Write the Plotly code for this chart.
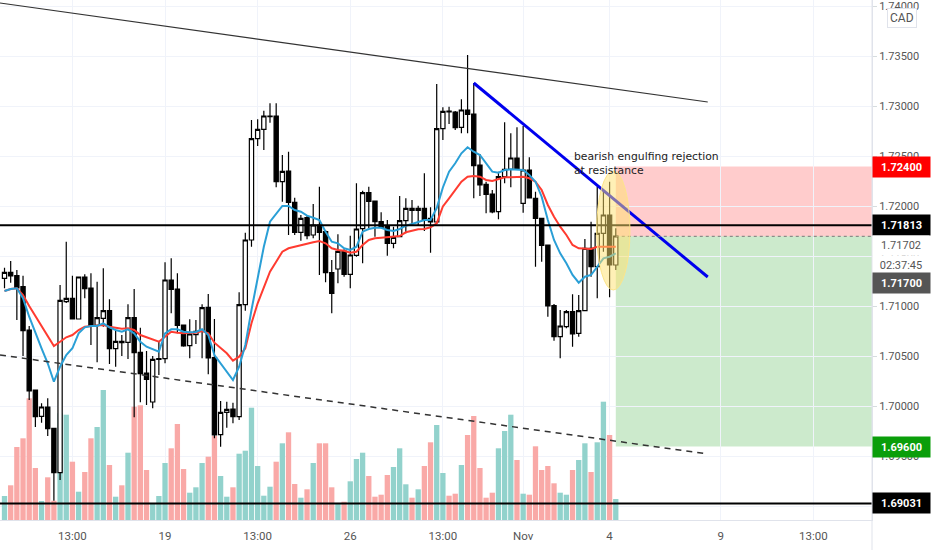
"""
GBP/CAD style chart: candles, volume, two moving averages and a short setup
"""

import plotly.graph_objects as go

bars = list(range(100))

opens = [
    1.71282, 1.71342, 1.71308, 1.71198, 1.70765, 1.70165, 1.69902, 1.69995, 1.69782, 1.69338,
    1.71048, 1.71082, 1.70875, 1.71295, 1.71185, 1.70812, 1.70882, 1.70958, 1.70578, 1.70652,
    1.70642, 1.70888, 1.70542, 1.70335, 1.70045, 1.70472, 1.70478, 1.71265, 1.71175, 1.70815,
    1.70608, 1.70718, 1.70752, 1.70992, 1.70488, 1.69718, 1.69942, 1.69975, 1.69898, 1.71018,
    1.71665, 1.72678, 1.72772, 1.72898, 1.72905, 1.72248, 1.72355, 1.72042, 1.71742, 1.71888,
    1.71715, 1.71815, 1.71748, 1.71338, 1.71375, 1.71555, 1.71322, 1.71512, 1.71778, 1.72138,
    1.72055, 1.71848, 1.71808, 1.71632, 1.71698, 1.71858, 1.71982, 1.71962, 1.71982, 1.71882,
    1.71845, 1.72778, 1.72955, 1.72945, 1.72792, 1.72965, 1.72925, 1.72415, 1.72222, 1.72125,
    1.71948, 1.72298, 1.72372, 1.72485, 1.72032, 1.72365, 1.72082, 1.71882, 1.71615, 1.71008,
    1.70698, 1.70798, 1.70948, 1.70732, 1.70958, 1.71582, 1.71398, 1.71732, 1.71915, 1.71415,
]
closes = [
    1.71342, 1.71305, 1.71185, 1.70758, 1.70155, 1.69898, 1.69995, 1.69778, 1.69338, 1.71062,
    1.71082, 1.70875, 1.71295, 1.71178, 1.70805, 1.70888, 1.70958, 1.70578, 1.70652, 1.70638,
    1.70888, 1.70538, 1.70328, 1.70272, 1.70472, 1.70478, 1.71265, 1.71172, 1.70812, 1.70605,
    1.70725, 1.70752, 1.70988, 1.70485, 1.69715, 1.69942, 1.69972, 1.69898, 1.71018, 1.71665,
    1.72678, 1.72772, 1.72905, 1.72905, 1.72248, 1.72352, 1.72042, 1.71742, 1.71882, 1.71708,
    1.71815, 1.71742, 1.71338, 1.71132, 1.71552, 1.71322, 1.71515, 1.71775, 1.72138, 1.72052,
    1.71848, 1.71792, 1.71632, 1.71692, 1.71858, 1.71982, 1.71962, 1.71982, 1.71872, 1.71845,
    1.72778, 1.72952, 1.72945, 1.72788, 1.72965, 1.72922, 1.72408, 1.72215, 1.72122, 1.71945,
    1.72298, 1.72372, 1.72485, 1.72372, 1.72365, 1.72085, 1.71882, 1.71612, 1.71005, 1.70698,
    1.70805, 1.70948, 1.70725, 1.70958, 1.71582, 1.71398, 1.71732, 1.71915, 1.71415, 1.71705,
]
highs = [
    1.71388, 1.71455, 1.71365, 1.71308, 1.70805, 1.70165, 1.70032, 1.70082, 1.69785, 1.71215,
    1.71648, 1.71308, 1.71295, 1.71322, 1.71332, 1.71248, 1.71382, 1.71072, 1.70755, 1.70715,
    1.71022, 1.71175, 1.70788, 1.70555, 1.70505, 1.70648, 1.71442, 1.71482, 1.71332, 1.70815,
    1.70872, 1.70865, 1.71022, 1.71125, 1.70875, 1.70055, 1.70048, 1.70038, 1.71142, 1.71738,
    1.72865, 1.72872, 1.72958, 1.73032, 1.73032, 1.72515, 1.72548, 1.72088, 1.71915, 1.71915,
    1.72025, 1.72198, 1.71765, 1.71465, 1.71722, 1.71572, 1.71708, 1.72232, 1.72158, 1.72198,
    1.72055, 1.71942, 1.71865, 1.71798, 1.72105, 1.72082, 1.72065, 1.72008, 1.72332, 1.71992,
    1.73225, 1.72992, 1.72998, 1.72955, 1.73072, 1.73515, 1.73235, 1.72525, 1.72248, 1.72165,
    1.72348, 1.72842, 1.72732, 1.72792, 1.72805, 1.72492, 1.72148, 1.71882, 1.71615, 1.71025,
    1.70965, 1.70965, 1.71122, 1.71115, 1.71675, 1.71848, 1.72198, 1.72165, 1.72248, 1.71782,
]
lows = [
    1.71182, 1.71238, 1.70865, 1.70505, 1.70065, 1.69795, 1.69838, 1.69705, 1.69058, 1.69265,
    1.71035, 1.70875, 1.70875, 1.71082, 1.70615, 1.70442, 1.70798, 1.70425, 1.70398, 1.70505,
    1.70475, 1.69892, 1.70042, 1.70015, 1.69982, 1.70315, 1.70432, 1.70932, 1.70732, 1.70598,
    1.70482, 1.70625, 1.70482, 1.70322, 1.69682, 1.69598, 1.69788, 1.69832, 1.69865, 1.70958,
    1.71598, 1.72605, 1.72565, 1.72838, 1.72192, 1.72048, 1.71715, 1.71715, 1.71658, 1.71672,
    1.71682, 1.71315, 1.71242, 1.70932, 1.71232, 1.71298, 1.71182, 1.71498, 1.71432, 1.71782,
    1.71698, 1.71782, 1.71508, 1.71582, 1.71692, 1.71732, 1.71825, 1.71815, 1.71755, 1.71538,
    1.71825, 1.72665, 1.72825, 1.72765, 1.72732, 1.72732, 1.72082, 1.72105, 1.71932, 1.71932,
    1.71872, 1.72232, 1.72192, 1.72365, 1.71938, 1.72082, 1.71398, 1.71448, 1.70898, 1.70658,
    1.70482, 1.70782, 1.70598, 1.70698, 1.70958, 1.71298, 1.71082, 1.71548, 1.71092, 1.71365,
]
volumes = [
    24, 34.7, 73, 81.7, 121.7, 52, 19, 42.7, 19.3, 106.7,
    105.3, 58.3, 28.3, 48, 81.7, 93, 130, 55, 23.3, 34.7,
    67.3, 113.3, 114.7, 50, 16.7, 24, 57, 71.7, 96, 51,
    27.3, 32.7, 57, 63.3, 84, 44, 23.3, 32.7, 66.3, 69.3,
    112.3, 54, 24.3, 33.3, 58.3, 76.7, 87.7, 36, 22.3, 30.7,
    57, 76.7, 76.7, 32.7, 16.7, 18.3, 38.7, 61, 67.3, 44,
    23.3, 25.3, 45, 53, 71.7, 35.7, 22.3, 30.7, 54, 77.7,
    95, 47, 24.3, 26.3, 55, 85, 104, 52, 22.3, 27.3,
    71.7, 89, 105.3, 60, 26.3, 25.3, 73.7, 50, 54, 36.7,
    27.3, 25.3, 50, 60, 76.7, 48, 77.7, 118.3, 85, 21,
]
ma_fast = [
    1.71155, 1.71175, 1.71182, 1.71082, 1.70898, 1.70732, 1.70582, 1.70432, 1.70248, 1.70398,
    1.70515, 1.70582, 1.70732, 1.70792, 1.70805, 1.70805, 1.70832, 1.70792, 1.70765, 1.70748,
    1.70772, 1.70732, 1.70648, 1.70598, 1.70572, 1.70548, 1.70732, 1.70772, 1.70772, 1.70748,
    1.70742, 1.70745, 1.70772, 1.70715, 1.70515, 1.70432, 1.70348, 1.70265, 1.70398, 1.70615,
    1.70965, 1.71298, 1.71598, 1.71848, 1.71932, 1.72005, 1.72005, 1.71965, 1.71948, 1.71908,
    1.71888, 1.71865, 1.71748, 1.71648, 1.71632, 1.71582, 1.71565, 1.71598, 1.71748, 1.71775,
    1.71788, 1.71788, 1.71765, 1.71755, 1.71775, 1.71808, 1.71825, 1.71848, 1.71865, 1.71865,
    1.71985, 1.72190, 1.72348, 1.72432, 1.72532, 1.72592, 1.72548, 1.72515, 1.72432, 1.72348,
    1.72338, 1.72365, 1.72372, 1.72372, 1.72365, 1.72315, 1.72248, 1.72098, 1.71865, 1.71665,
    1.71532, 1.71432, 1.71315, 1.71238, 1.71298, 1.71315, 1.71398, 1.71482, 1.71498, 1.71532,
]
ma_slow = [
    1.71155, 1.71175, 1.71182, 1.71115, 1.71005, 1.70905, 1.70815, 1.70715, 1.70605, 1.70648,
    1.70692, 1.70715, 1.70765, 1.70798, 1.70805, 1.70805, 1.70815, 1.70798, 1.70785, 1.70778,
    1.70782, 1.70765, 1.70715, 1.70692, 1.70665, 1.70648, 1.70698, 1.70748, 1.70738, 1.70732,
    1.70738, 1.70738, 1.70755, 1.70732, 1.70638, 1.70582, 1.70532, 1.70458, 1.70498, 1.70582,
    1.70832, 1.71032, 1.71198, 1.71348, 1.71448, 1.71548, 1.71582, 1.71598, 1.71615, 1.71632,
    1.71642, 1.71655, 1.71632, 1.71582, 1.71565, 1.71558, 1.71538, 1.71548, 1.71615, 1.71665,
    1.71682, 1.71688, 1.71692, 1.71698, 1.71705, 1.71742, 1.71758, 1.71772, 1.71775, 1.71792,
    1.71832, 1.72000, 1.72082, 1.72165, 1.72248, 1.72298, 1.72305, 1.72298, 1.72265, 1.72255,
    1.72272, 1.72292, 1.72292, 1.72298, 1.72298, 1.72282, 1.72248, 1.72165, 1.72015, 1.71898,
    1.71798, 1.71715, 1.71615, 1.71582, 1.71575, 1.71575, 1.71598, 1.71598, 1.71605, 1.71598,
]

x_start = -0.73
x_end = 140.5
x_ticks = [11, 26, 41, 56, 71, 84, 98, 116, 131]
x_labels = ['13:00', '19', '13:00', '26', '13:00', 'Nov', '4', '9', '13:00']
y_ticks = [1.69, 1.695, 1.70, 1.705, 1.71, 1.715, 1.72, 1.725, 1.73, 1.735, 1.74]

# drawings on the chart
upper_x = [x_start, 113.9]
upper_y = [1.74035, 1.73045]
lower_x = [x_start, 113.9]
lower_y = [1.70515, 1.69525]
blue_x = [76, 113.9]
blue_y = [1.73235, 1.71295]
resistance = 1.71813
support = 1.69031
entry = 1.71702
stop = 1.724
target = 1.696
last_price = 1.717

fig = go.Figure()

vol_colors = ['#92d2cc' if c >= o else '#f9a9a7' for o, c in zip(opens, closes)]
fig.add_trace(go.Bar(x=bars, y=volumes, marker_color=vol_colors, marker_line_width=0, yaxis='y'))

fig.add_trace(go.Scatter(x=bars, y=ma_slow, mode='lines', line=dict(color='#ff3b30', width=2), yaxis='y2'))
fig.add_trace(go.Scatter(x=bars, y=ma_fast, mode='lines', line=dict(color='#2a9fd6', width=2), yaxis='y2'))

fig.add_trace(go.Candlestick(
    x=bars, open=opens, high=highs, low=lows, close=closes, yaxis='y2', whiskerwidth=0,
    increasing=dict(line=dict(color='#000000', width=1.2), fillcolor='#ffffff'),
    decreasing=dict(line=dict(color='#000000', width=1.2), fillcolor='#000000'),
))

fig.add_trace(go.Scatter(x=upper_x, y=upper_y, mode='lines', line=dict(color='#333333', width=1.2), yaxis='y2'))
fig.add_trace(go.Scatter(x=lower_x, y=lower_y, mode='lines', line=dict(color='#333333', width=1.5, dash='6px,5px'), yaxis='y2'))
fig.add_trace(go.Scatter(x=blue_x, y=blue_y, mode='lines', line=dict(color='#0000ee', width=3), yaxis='y2'))
for level in [resistance, support]:
    fig.add_trace(go.Scatter(x=[x_start, x_end], y=[level, level], mode='lines',
                             line=dict(color='#000000', width=2), yaxis='y2'))

# short position box
fig.add_shape(type='rect', x0=99, x1=x_end, y0=entry, y1=stop, yref='y2',
              fillcolor='rgba(255,0,0,0.2)', line_width=0, layer='below')
fig.add_shape(type='rect', x0=99, x1=x_end, y0=target, y1=entry, yref='y2',
              fillcolor='rgba(0,150,0,0.2)', line_width=0, layer='below')
fig.add_shape(type='line', x0=99, x1=x_end, y0=entry, y1=entry, yref='y2',
              line=dict(color='#777777', width=1, dash='dot'))
# highlight on the rejection candles
fig.add_shape(type='circle', x0=95.9, x1=101.3, y0=1.71165, y1=1.72355, yref='y2',
              fillcolor='rgba(255,225,110,0.5)', line=dict(color='#fde58a', width=1))
# right hand axis runs down to the bottom of the page
fig.add_shape(type='line', xref='x domain', yref='paper', x0=1, x1=1, y0=-0.06, y1=1,
              line=dict(color='#e0e3eb', width=1))

fig.add_annotation(x=91.9, y=1.7243, yref='y2', xanchor='left', text='bearish engulfing rejection<br>at resistance',
                   showarrow=False, align='left', font=dict(family='DejaVu Sans', size=10.8, color='#222222'))


def price_tag(text, price, bg, color='#ffffff', width=55, height=18):
    fig.add_annotation(xref='paper', x=1, xanchor='left', y=price, yref='y2', text=text, showarrow=False,
                       bgcolor=bg, width=width, height=height, align='center',
                       font=dict(family='Roboto', size=11, color=color))


price_tag('<b>1.72400</b>', stop, '#ff0000')
price_tag('<b>1.71813</b>', resistance, '#000000')
price_tag('<b>1.69600</b>', target, '#0a9e0a')
price_tag('<b>1.69031</b>', support, '#000000')
price_tag('1.71702', 1.71615, '#ffffff', '#555555', 54, 17)
price_tag('02:37:45', 1.71415, '#ffffff', '#555555', 54, 17)
price_tag('<b>1.71700</b>', 1.71235, '#555555')
fig.add_annotation(xref='paper', yref='paper', x=1, y=1, xanchor='left', yanchor='top', xshift=15, yshift=-8,
                   text='CAD', showarrow=False, bgcolor='#ffffff', bordercolor='#e0e3eb', borderwidth=1, borderpad=2,
                   font=dict(family='Roboto', size=12, color='#555555'))

fig.update_layout(
    width=932,
    height=550,
    margin=dict(l=0, r=60, t=0, b=30),
    plot_bgcolor='#ffffff',
    paper_bgcolor='#ffffff',
    showlegend=False,
    bargap=0.14,
    boxgap=0.02,
    xaxis=dict(
        range=[x_start, x_end], tickmode='array', tickvals=x_ticks, ticktext=x_labels, rangeslider=dict(visible=False),
        showgrid=True, gridcolor='#f0f3fa', showline=True, linecolor='#e0e3eb', ticks='', ticklabelstandoff=5,
        tickfont=dict(family='Roboto', size=11.5, color='#555555'), zeroline=False,
    ),
    yaxis=dict(range=[0, 520], visible=False, showgrid=False, zeroline=False),
    yaxis2=dict(
        range=[1.68865, 1.74065], overlaying='y', side='right', tickmode='array', tickvals=y_ticks,
        tickformat='.5f', showgrid=True, gridcolor='#f0f3fa', showline=True, linecolor='#e0e3eb',
        ticks='outside', ticklen=4, tickcolor='#d6dcde', zeroline=False,
        tickfont=dict(family='Roboto', size=11, color='#555555'),
    ),
)

# the page default body margin would push the chart 8px away from the corner
fig.write_html("out.html", config={'displayModeBar': False},
               post_script="document.body.style.margin='0';window.dispatchEvent(new Event('resize'));")
